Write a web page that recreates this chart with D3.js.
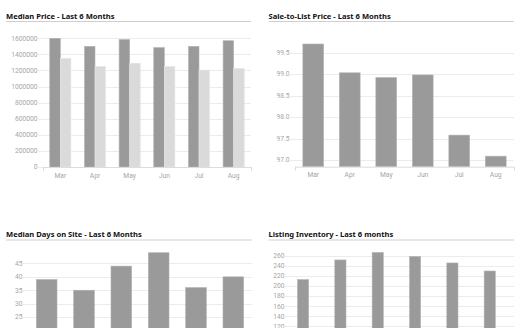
<!DOCTYPE html>
<html><head><meta charset="utf-8">
<script src="https://cdn.jsdelivr.net/npm/d3@7/dist/d3.min.js"></script>
<style>
html,body{margin:0;padding:0;background:#fff;}
svg{display:block;}
.tick-label{font-family:Roboto,"Liberation Sans",sans-serif;font-size:6.7px;fill:#a6a6a6;}
.title{font-family:"Noto Sans",sans-serif;font-weight:700;font-size:7.6px;fill:#111;}
</style></head>
<body>
<svg id="chart" width="525" height="328"></svg>
<script>
const months = ["Mar","Apr","May","Jun","Jul","Aug"];
const medianPriceCurrent = [1600000,1500000,1585000,1485000,1500000,1570000];
const medianPricePrior = [1350000,1250000,1290000,1250000,1205000,1225000];
const saleToList = [99.7,99.03,98.92,98.98,97.58,97.09];
const daysOnSite = [39,35,44,49,36,40];
const inventory = [213,252,267,259,246,230];

const priceTicks = [0,200000,400000,600000,800000,1000000,1200000,1400000,1600000];
const stlTicks = [97.0,97.5,98.0,98.5,99.0,99.5];
const dayTicks = [0,5,10,15,20,25,30,35,40,45];
const invTicks = [0,20,40,60,80,100,120,140,160,180,200,220,240,260];

const titles = ["Median Price - Last 6 Months","Sale-to-List Price - Last 6 Months",
  "Median Days on Site - Last 6 Months","Listing Inventory - Last 6 months"];

const svg = d3.select("#chart");
const DARK = "#9a9a9a", LIGHT = "#dadada";
const H = 328;

function panel(o){
  const g = svg.append("g");
  g.append("text").attr("class","title").attr("x",o.tx).attr("y",o.ty).text(o.title);
  g.append("line").attr("x1",o.tx).attr("x2",o.right).attr("y1",o.ty+3).attr("y2",o.ty+3)
    .attr("stroke","#cfcfcf").attr("stroke-width",1);
  const y = d3.scaleLinear().domain(o.domain).range(o.range);
  const x = d3.scaleBand().domain(months).range([o.left,o.right]).paddingInner(0).paddingOuter(0);
  const ticks = o.ticks.filter(t=>y(t)<=o.range[0]+0.01 && y(t)<H);
  g.selectAll(".grid").data(ticks).enter().append("line")
    .attr("x1",o.left-5).attr("x2",o.right)
    .attr("y1",d=>Math.round(y(d))+0.5).attr("y2",d=>Math.round(y(d))+0.5)
    .attr("stroke","#ececec").attr("stroke-width",1);
  const labTicks = ticks.filter(t=>y(t)+3<=H+1.5);
  g.selectAll(".tl").data(labTicks).enter().append("text").attr("class","tick-label")
    .attr("x",o.left-5.5).attr("y",d=>y(d)).attr("dy","0.35em").attr("text-anchor","end")
    .text(o.fmt);
  const groupW = x.bandwidth()*o.groupFrac;
  const slotW = groupW/o.slots;
  o.series.forEach((s,si)=>{
    g.selectAll(".bar"+si).data(s.values).enter().append("rect")
      .attr("x",(d,i)=>x(months[i])+(x.bandwidth()-groupW)/2+si*slotW)
      .attr("width",slotW)
      .attr("y",d=>y(d))
      .attr("height",d=>o.range[0]-y(d))
      .attr("fill",s.color)
      .attr("stroke",s.stroke).attr("stroke-width",0.6);
  });
  if(o.xAxis){
    const by = o.range[0];
    g.append("line").attr("x1",o.left).attr("x2",o.right).attr("y1",by+0.5).attr("y2",by+0.5)
      .attr("stroke","#dcdcdc");
    [o.left,o.right].forEach(xx=>g.append("line").attr("x1",xx+0.5).attr("x2",xx+0.5)
      .attr("y1",by).attr("y2",by+4).attr("stroke","#dcdcdc"));
    g.selectAll(".xl").data(months).enter().append("text").attr("class","tick-label")
      .attr("x",d=>x(d)+x.bandwidth()/2).attr("y",by+10.5).attr("text-anchor","middle").text(d=>d);
  }
}

panel({title:titles[0],tx:6,ty:18.5,left:43,right:251,domain:[0,1600000],range:[167,38.3],
  ticks:priceTicks,fmt:d=>d3.format("d")(d),slots:2,groupFrac:0.61,xAxis:true,
  series:[{values:medianPriceCurrent,color:DARK,stroke:"#b5b5b5"},{values:medianPricePrior,color:LIGHT,stroke:"#e6e6e6"}]});

panel({title:titles[1],tx:268.5,ty:18.5,left:295,right:514,domain:[96.845,99.7],range:[166.7,44],
  ticks:stlTicks,fmt:d=>d3.format(".1f")(d),slots:1,groupFrac:0.57,xAxis:true,
  series:[{values:saleToList,color:DARK,stroke:"#b5b5b5"}]});

panel({title:titles[2],tx:6,ty:237,left:28,right:252,domain:[0,49],range:[384,252.7],
  ticks:dayTicks,fmt:d=>d,slots:1,groupFrac:0.555,xAxis:false,
  series:[{values:daysOnSite,color:DARK,stroke:"#b5b5b5"}]});

panel({title:titles[3],tx:268.5,ty:237,left:290,right:514,domain:[0,267],range:[386.6,252.4],
  ticks:invTicks,fmt:d=>d,slots:2,groupFrac:0.6,xAxis:false,
  series:[{values:inventory,color:DARK,stroke:"#b5b5b5"}]});
</script>
</body></html>
